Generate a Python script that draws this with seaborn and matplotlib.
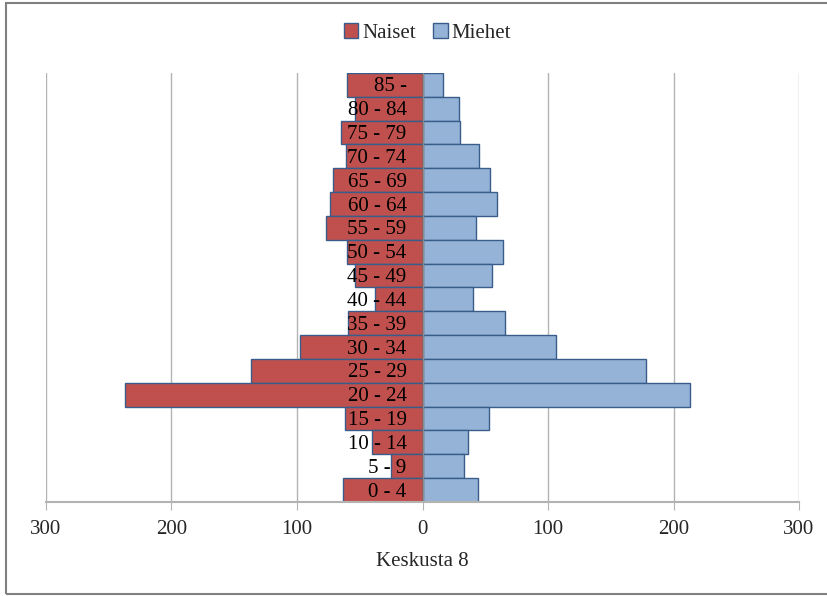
import numpy as np
import pandas as pd
import matplotlib
matplotlib.use("Agg")
import matplotlib.pyplot as plt
from matplotlib.patches import Patch, Rectangle
from matplotlib.ticker import FuncFormatter
import seaborn as sns

# Datos
ikaryhmat = ["0 - 4", "5 - 9", "10 - 14", "15 - 19", "20 - 24", "25 - 29", "30 - 34",
             "35 - 39", "40 - 44", "45 - 49", "50 - 54", "55 - 59", "60 - 64",
             "65 - 69", "70 - 74", "75 - 79", "80 - 84", "85 -"]
naiset = [63, 25, 40, 62, 237, 137, 98, 59, 38, 54, 60, 77, 74, 71, 61, 65, 54, 60]
miehet = [44, 33, 36, 53, 213, 178, 106, 66, 40, 55, 64, 43, 59, 54, 45, 30, 29, 16]

df = pd.DataFrame({"ika": ikaryhmat, "Naiset": naiset, "Miehet": miehet})
df["Naiset_neg"] = -df["Naiset"]
orden = ikaryhmat[::-1]

sns.set_style("white")
plt.rcParams["font.family"] = ["Liberation Serif", "DejaVu Serif"]

rojo = "#c0504d"
azul = "#95b3d7"
borde = "#385d8a"
gris = "#b3b3b3"

fig = plt.figure(figsize=(8.27, 5.96), dpi=100)
ax = fig.add_axes([46 / 827, 1 - 502 / 596, 753 / 827, 429 / 596])

# Cuadrícula vertical
ax.set_axisbelow(True)
ax.grid(axis="x", color=gris, linewidth=1)

sns.barplot(data=df, y="ika", x="Naiset_neg", order=orden, orient="h", color=rojo,
            width=1.0, edgecolor=borde, linewidth=1, saturation=1, ax=ax)
sns.barplot(data=df, y="ika", x="Miehet", order=orden, orient="h", color=azul,
            width=1.0, edgecolor=borde, linewidth=1, saturation=1, ax=ax)

ax.axvline(0, color="#8c8c8c", linewidth=1, zorder=1.5)

ax.set_xlim(-300, 300)
ax.set_ylim(len(orden) - 0.5, -0.5)
ax.set_xticks([-300, -200, -100, 0, 100, 200, 300])
ax.xaxis.set_major_formatter(FuncFormatter(lambda v, p: f"{abs(int(v))}"))
ax.tick_params(axis="x", bottom=True, length=6, color=gris, labelsize=15, pad=7)
ax.set_yticks([])
ax.set_ylabel("")
ax.set_xlabel("Keskusta 8", fontsize=15, labelpad=9)

for lado in ["top", "left", "right"]:
    ax.spines[lado].set_visible(False)
ax.spines["bottom"].set_color(gris)
ax.spines["bottom"].set_linewidth(1.5)

# Etiquetas de edad junto al eje
desplaz = matplotlib.transforms.offset_copy(ax.transData, fig=fig, x=-16, y=-2, units="dots")
for i, etiqueta in enumerate(orden):
    ax.text(0, i, etiqueta, ha="right", va="center", fontsize=15, color="black",
            transform=desplaz, zorder=5)

# Leyenda
manejadores = [Patch(facecolor=rojo, edgecolor=borde, label="Naiset"),
               Patch(facecolor=azul, edgecolor=borde, label="Miehet")]
fig.legend(handles=manejadores, loc="center", bbox_to_anchor=(0.517, 1 - 33 / 596),
           ncol=2, frameon=False, fontsize=15, handlelength=0.7, handleheight=0.7,
           handletextpad=0.2, columnspacing=0.8)

# Marco exterior
fig.patches.append(Rectangle((6 / 827, 2 / 596), 1.0, 591 / 596, transform=fig.transFigure,
                             fill=False, edgecolor="#808080", linewidth=1.5))

fig.savefig("out.png", dpi=100)
